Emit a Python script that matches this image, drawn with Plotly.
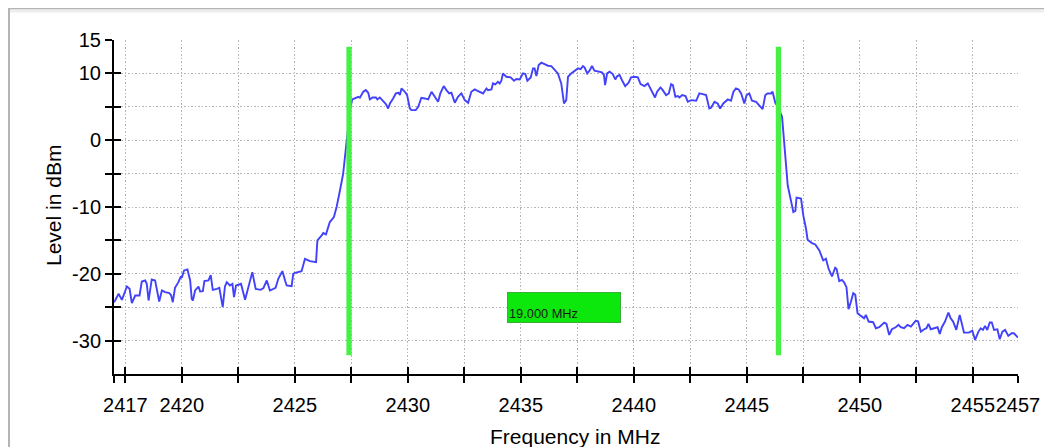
import plotly.graph_objects as go

# ---- data ----
freq_mhz = [
    2417.00, 2417.05, 2417.20, 2417.35, 2417.57, 2417.69, 2417.79, 2417.94, 2418.13, 2418.23,
    2418.38, 2418.45, 2418.53, 2418.67, 2418.82, 2419.00, 2419.12, 2419.26, 2419.45, 2419.53,
    2419.60, 2419.70, 2419.85, 2419.96, 2420.00, 2420.10, 2420.25, 2420.37, 2420.44, 2420.49,
    2420.59, 2420.74, 2420.81, 2420.93, 2421.00, 2421.18, 2421.28, 2421.37, 2421.55, 2421.66,
    2421.81, 2421.91, 2421.99, 2422.13, 2422.24, 2422.31, 2422.40, 2422.62, 2422.80, 2422.94,
    2423.12, 2423.27, 2423.49, 2423.61, 2423.76, 2423.90, 2424.05, 2424.15, 2424.27, 2424.45,
    2424.57, 2424.64, 2424.86, 2424.93, 2425.01, 2425.30, 2425.45, 2425.67, 2425.94, 2426.00,
    2426.19, 2426.26, 2426.38, 2426.55, 2426.73, 2426.85, 2427.00, 2427.14, 2427.22, 2427.32,
    2427.44, 2427.54, 2427.73, 2427.81, 2427.88, 2428.03, 2428.14, 2428.25, 2428.32, 2428.44,
    2428.59, 2428.65, 2428.76, 2428.91, 2429.03, 2429.13, 2429.21, 2429.35, 2429.47, 2429.59,
    2429.65, 2429.72, 2429.87, 2429.97, 2430.09, 2430.16, 2430.35, 2430.46, 2430.60, 2430.75,
    2430.90, 2431.05, 2431.16, 2431.34, 2431.44, 2431.59, 2431.71, 2431.83, 2431.93, 2432.08,
    2432.22, 2432.37, 2432.52, 2432.67, 2432.81, 2432.96, 2433.11, 2433.33, 2433.48, 2433.55,
    2433.70, 2433.77, 2433.87, 2433.99, 2434.07, 2434.14, 2434.21, 2434.36, 2434.55, 2434.70,
    2434.80, 2434.95, 2435.10, 2435.20, 2435.29, 2435.44, 2435.54, 2435.61, 2435.69, 2435.79,
    2435.91, 2436.05, 2436.20, 2436.35, 2436.50, 2436.64, 2436.79, 2436.86, 2436.91, 2437.01,
    2437.09, 2437.23, 2437.38, 2437.53, 2437.65, 2437.75, 2437.82, 2437.94, 2438.04, 2438.15,
    2438.26, 2438.41, 2438.59, 2438.68, 2438.73, 2438.82, 2438.93, 2439.07, 2439.18, 2439.27,
    2439.37, 2439.49, 2439.62, 2439.77, 2439.88, 2440.03, 2440.18, 2440.30, 2440.47, 2440.62,
    2440.77, 2440.94, 2441.03, 2441.18, 2441.28, 2441.43, 2441.55, 2441.65, 2441.73, 2441.84,
    2441.95, 2442.02, 2442.14, 2442.29, 2442.39, 2442.54, 2442.76, 2442.90, 2443.05, 2443.20,
    2443.34, 2443.42, 2443.57, 2443.71, 2443.82, 2443.96, 2444.16, 2444.30, 2444.41, 2444.52,
    2444.64, 2444.75, 2444.89, 2444.99, 2445.11, 2445.23, 2445.41, 2445.55, 2445.70, 2445.82,
    2445.92, 2446.07, 2446.14, 2446.26, 2446.37, 2446.56, 2446.66, 2446.81, 2446.95, 2447.06,
    2447.15, 2447.20, 2447.40, 2447.50, 2447.62, 2447.69, 2447.88, 2448.03, 2448.21, 2448.38,
    2448.50, 2448.62, 2448.77, 2448.91, 2448.97, 2449.09, 2449.21, 2449.31, 2449.41, 2449.50,
    2449.61, 2449.71, 2449.80, 2449.90, 2450.05, 2450.19, 2450.27, 2450.39, 2450.59, 2450.71,
    2450.86, 2451.08, 2451.18, 2451.30, 2451.42, 2451.59, 2451.71, 2451.81, 2451.96, 2452.11,
    2452.26, 2452.36, 2452.48, 2452.58, 2452.70, 2452.85, 2452.95, 2453.04, 2453.14, 2453.29,
    2453.44, 2453.54, 2453.63, 2453.77, 2453.92, 2454.02, 2454.13, 2454.27, 2454.42, 2454.61,
    2454.83, 2454.98, 2455.10, 2455.25, 2455.35, 2455.45, 2455.54, 2455.64, 2455.75, 2455.84,
    2455.94, 2456.09, 2456.19, 2456.31, 2456.43, 2456.57, 2456.72, 2456.82, 2456.97, 2457.00,
]

level_dbm = [
    -24.25, -24.0, -23.0, -23.9, -21.9, -22.25, -24.4, -23.25, -23.25, -21.15,
    -21.0, -21.5, -24.0, -20.85, -21.0, -24.15, -22.5, -22.75, -22.9, -23.25,
    -24.25, -22.1, -21.25, -20.4, -20.6, -19.5, -19.35, -21.0, -23.75, -24.0,
    -22.5, -21.9, -22.65, -22.6, -21.1, -21.0, -20.2, -22.4, -22.25, -22.1,
    -25.0, -21.9, -21.25, -21.75, -21.5, -23.5, -21.75, -21.5, -23.9, -21.9,
    -19.75, -22.25, -22.4, -22.15, -21.0, -22.5, -22.25, -22.1, -20.75, -19.6,
    -21.0, -21.75, -21.85, -20.0, -19.85, -19.6, -17.75, -18.1, -18.25, -15.0,
    -14.25, -13.9, -14.1, -12.25, -11.5, -10.0, -7.5, -5.0, -2.5, 1.0,
    4.5, 6.1, 6.35, 6.5, 6.35, 7.25, 7.5, 7.1, 6.1, 6.4,
    6.4, 6.1, 6.4, 5.75, 5.4, 4.75, 5.5, 6.25, 7.0, 7.1,
    6.75, 7.75, 7.25, 6.75, 4.75, 4.5, 4.5, 5.0, 6.35, 6.25,
    6.1, 7.25, 6.6, 5.75, 7.0, 8.1, 7.5, 7.0, 7.1, 5.6,
    6.5, 7.0, 6.0, 5.6, 7.25, 7.6, 7.35, 7.0, 7.75, 7.5,
    7.6, 8.5, 8.35, 8.75, 8.5, 8.9, 10.0, 9.5, 9.4, 8.9,
    9.15, 9.1, 10.0, 9.9, 8.9, 9.4, 10.75, 10.75, 9.6, 11.25,
    11.6, 11.4, 11.15, 11.1, 10.6, 10.0, 8.5, 7.0, 5.5, 6.0,
    9.5, 10.0, 10.4, 10.75, 10.65, 11.1, 10.9, 10.0, 10.4, 11.1,
    10.4, 10.25, 10.15, 9.75, 8.25, 10.0, 10.25, 9.9, 9.1, 9.6,
    9.75, 8.9, 8.1, 8.6, 9.4, 9.5, 9.4, 8.4, 8.1, 8.5,
    7.6, 6.4, 7.25, 7.9, 7.5, 6.75, 7.0, 8.4, 8.25, 6.5,
    6.6, 6.4, 6.75, 6.6, 5.75, 6.0, 5.9, 7.0, 6.9, 6.75,
    4.75, 4.85, 5.75, 5.5, 4.75, 5.5, 6.1, 5.9, 7.25, 7.75,
    7.6, 7.0, 5.5, 6.75, 7.0, 5.9, 5.75, 5.25, 4.65, 6.75,
    7.0, 7.0, 7.25, 5.6, 5.0, 3.5, -0.5, -6.75, -9.0, -10.75,
    -10.6, -8.6, -8.75, -11.25, -13.25, -14.9, -15.4, -15.6, -16.5, -18.0,
    -17.75, -19.25, -20.4, -19.1, -19.25, -21.1, -20.9, -21.3, -22.0, -25.3,
    -24.15, -22.9, -23.15, -25.9, -26.3, -26.65, -26.15, -27.15, -27.25, -28.15,
    -28.0, -27.3, -27.5, -29.15, -28.3, -28.0, -27.65, -28.0, -28.15, -27.65,
    -27.9, -27.4, -27.0, -27.15, -28.65, -28.3, -28.15, -27.5, -28.3, -28.15,
    -28.0, -29.0, -28.0, -27.15, -25.8, -26.65, -27.15, -28.4, -26.15, -28.8,
    -28.8, -28.5, -29.9, -28.65, -28.15, -28.4, -27.8, -28.4, -27.3, -27.3,
    -28.4, -28.3, -29.8, -28.65, -28.4, -29.3, -28.9, -28.9, -29.5, -29.55,
]

marker_freqs = [2427.4, 2446.4]
marker_level_span = [-32.2, 14.0]
box_level = -25.0

x_range = [2417, 2457]
x_tick_vals = [2417, 2417.5, 2420, 2422.5, 2425, 2427.5, 2430, 2432.5, 2435, 2437.5,
               2440, 2442.5, 2445, 2447.5, 2450, 2452.5, 2455, 2457]
x_tick_text = ["", "2417", "2420", "", "2425", "", "2430", "", "2435", "",
               "2440", "", "2445", "", "2450", "", "2455", "2457"]
y_range = [-35, 15]
y_tick_vals = [-30, -25, -20, -15, -10, -5, 0, 5, 10, 15]
y_tick_text = ["-30", "", "-20", "", "-10", "", "0", "", "10", "15"]

x_title = "Frequency in MHz"
y_title = "Level in dBm"

# ---- figure ----
W, H = 1052, 447
OFF = 8  # page body margin
ML, MT = 114 - OFF, 40 - OFF
PW, PH = 904, 334
MR = W - ML - PW
MB = H - MT - PH
FONT = "Liberation Sans, Arial, sans-serif"

fig = go.Figure()
fig.add_trace(go.Scatter(x=freq_mhz, y=level_dbm, mode="lines",
                         line=dict(color="#4242fa", width=1.9),
                         hoverinfo="skip", showlegend=False))
for mf in marker_freqs:
    fig.add_trace(go.Scatter(x=[mf, mf], y=marker_level_span, mode="lines",
                             line=dict(color="#46f046", width=5.3),
                             hoverinfo="skip", showlegend=False))
# dummy trace for the overlay axes (inner half of the crossing ticks)
fig.add_trace(go.Scatter(x=[None], y=[None], xaxis="x2", yaxis="y2",
                         showlegend=False, hoverinfo="skip"))

grid = dict(showgrid=True, gridcolor="#b4b4b4", gridwidth=1.4, griddash="1.5px,2px")
common_tick = dict(tickcolor="black", tickwidth=2, ticklen=7,
                   tickfont=dict(family=FONT, size=20, color="black"))

fig.update_layout(
    width=W, height=H,
    margin=dict(l=ML, r=MR, t=MT, b=MB, autoexpand=False),
    paper_bgcolor="white", plot_bgcolor="white",
    font=dict(family=FONT, color="black"),
    xaxis=dict(range=x_range, tickmode="array", tickvals=x_tick_vals, ticktext=x_tick_text,
               ticks="outside", tickangle=0, showline=True, linecolor="black", linewidth=2,
               zeroline=False, ticklabelstandoff=5, **grid, **common_tick),
    yaxis=dict(range=y_range, tickmode="array", tickvals=y_tick_vals, ticktext=y_tick_text,
               ticks="outside", showline=True, linecolor="black", linewidth=2,
               zeroline=False, **grid, **common_tick),
    xaxis2=dict(range=x_range, overlaying="x", anchor="y", side="bottom",
                tickmode="array", tickvals=x_tick_vals, ticks="inside",
                showticklabels=False, showgrid=False, zeroline=False, showline=False,
                tickcolor="black", tickwidth=2, ticklen=7),
    yaxis2=dict(range=y_range, overlaying="y", anchor="x", side="left",
                tickmode="array", tickvals=y_tick_vals, ticks="inside",
                showticklabels=False, showgrid=False, zeroline=False, showline=False,
                tickcolor="black", tickwidth=2, ticklen=7),
    showlegend=False,
)

# helpers: window pixel -> paper coords
def px_to_paper_x(px):
    return (px - OFF - ML) / PW

def py_to_paper_y(py):
    return (MT + PH - (py - OFF)) / PH

# outer frame (extends beyond the window on the right and bottom)
fig.add_shape(type="rect", xref="paper", yref="paper",
              x0=px_to_paper_x(9), x1=px_to_paper_x(1075),
              y0=py_to_paper_y(470), y1=py_to_paper_y(8.5),
              line=dict(color="#b4b4b4", width=2), fillcolor="rgba(0,0,0,0)", layer="below")
fig.add_shape(type="line", xref="paper", yref="paper",
              x0=px_to_paper_x(10), x1=px_to_paper_x(1075),
              y0=py_to_paper_y(11), y1=py_to_paper_y(11),
              line=dict(color="#ededed", width=3), layer="below")

# bandwidth box between markers
bw = marker_freqs[1] - marker_freqs[0]
fig.add_annotation(x=(marker_freqs[0] + marker_freqs[1]) / 2, y=box_level,
                   xref="x", yref="y", showarrow=False,
                   text=f"{bw:.3f} MHz", align="left", valign="bottom",
                   width=110, height=27, borderpad=1, borderwidth=1,
                   bgcolor="#0ce80c", bordercolor="#38b038",
                   font=dict(family=FONT, size=12.8, color="#1a1a1a"))

# axis titles
fig.add_annotation(text=x_title, xref="paper", yref="paper",
                   x=px_to_paper_x(575), y=py_to_paper_y(436),
                   xanchor="center", yanchor="middle", showarrow=False,
                   font=dict(family=FONT, size=21, color="black"))
fig.add_annotation(text=y_title, xref="paper", yref="paper",
                   x=px_to_paper_x(54), y=py_to_paper_y(205),
                   xanchor="center", yanchor="middle", showarrow=False, textangle=-90,
                   font=dict(family=FONT, size=21, color="black"))

fig.write_html("out.html")
